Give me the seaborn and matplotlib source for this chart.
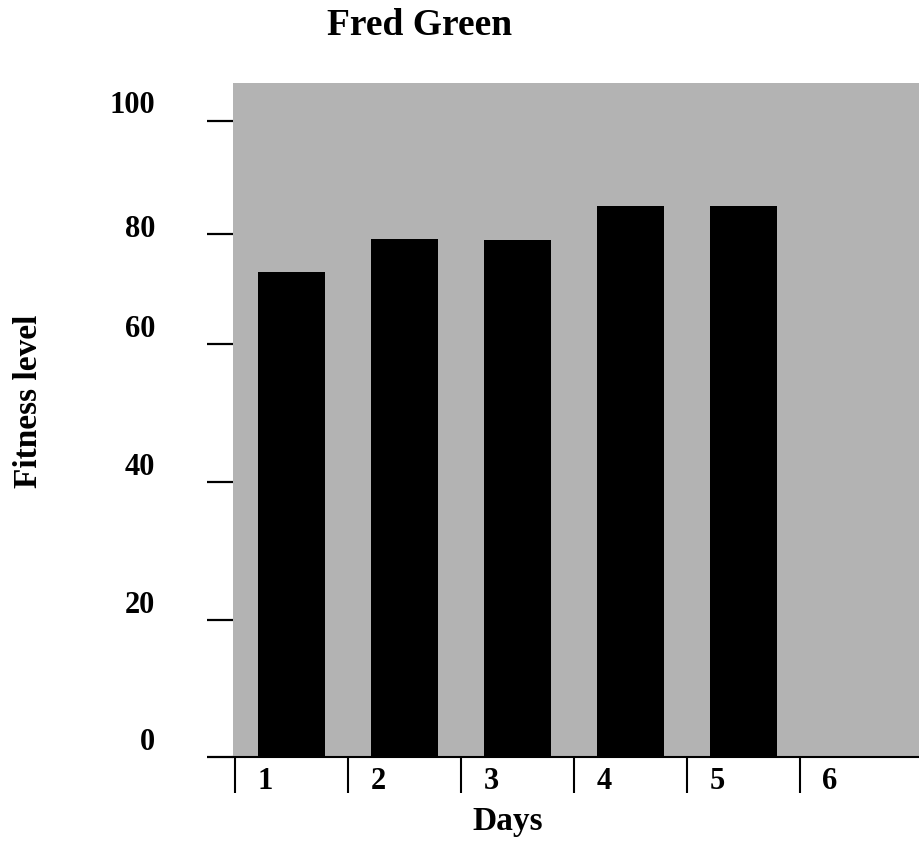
import numpy as np
import matplotlib
matplotlib.use("Agg")
import matplotlib.pyplot as plt
import matplotlib.transforms as mtransforms
import seaborn as sns

# Data (day 6 has no reading)
days = ["1", "2", "3", "4", "5", "6"]
fitness = [76.3, 81.4, 81.3, 86.6, 86.6]

# y axis: where the tick marks sit and where their labels sit (hand-drawn look)
ytick_labels = ["0", "20", "40", "60", "80", "100"]
ytick_marks = [0, 21.5, 43.2, 64.9, 82.2, 100]
ylabel_pos = [1.1, 22.6, 44.3, 66.0, 81.8, 101.3]

sns.set_style("white")
plt.rcParams["font.family"] = ["Liberation Serif", "DejaVu Serif"]
plt.rcParams["font.weight"] = "bold"
plt.rcParams["text.color"] = "black"
plt.rcParams["axes.labelcolor"] = "black"
plt.rcParams["xtick.color"] = "black"
plt.rcParams["ytick.color"] = "black"

fig = plt.figure(figsize=(9.2, 8.43), dpi=100)
ax = fig.add_axes([233 / 920, 1 - 757 / 843, 687 / 920, 674 / 843])
ax.set_facecolor("#b3b3b3")

sns.barplot(x=days[:5], y=fitness, order=days, color="black", saturation=1,
            width=0.59, errorbar=None, linewidth=0, ax=ax)

ax.set_xlim(-0.518, 5.562)
ax.set_ylim(0, 105.97)

for s in ["left", "top", "right"]:
    ax.spines[s].set_visible(False)
ax.spines["bottom"].set_color("black")
ax.spines["bottom"].set_linewidth(1.5)

# x axis: day separators as minor ticks, labels next to them
ax.set_xticks(range(len(days)), labels=days)
ax.set_xticks(np.arange(len(days)) - 0.5, minor=True)
ax.tick_params(axis="x", which="major", length=0, pad=7, labelsize=22,
               labelcolor="black")
ax.tick_params(axis="x", which="minor", bottom=True, length=26, width=1.5,
               color="black", direction="out")
shift = mtransforms.ScaledTranslation(-34 / 100, 0, fig.dpi_scale_trans)
for lbl in ax.get_xticklabels():
    lbl.set_ha("left")
    lbl.set_transform(lbl.get_transform() + shift)

# y axis
ax.set_yticks(ylabel_pos, labels=ytick_labels)
ax.set_yticks(ytick_marks, minor=True)
ax.tick_params(axis="y", which="major", length=0, pad=56, labelsize=22,
               labelcolor="black")
ax.tick_params(axis="y", which="minor", left=True, length=18.7, width=1.6,
               color="black", direction="out")
for lbl in ax.get_yticklabels():
    lbl.set_va("baseline")

ax.set_xlabel("Days", fontsize=24, fontweight="bold", color="black")
ax.xaxis.set_label_coords(0.3996, -0.0727)
ax.set_ylabel("Fitness level", fontsize=24, fontweight="bold", color="black")
ax.yaxis.set_label_coords(-0.2745, 0.528)

ax.set_title("Fred Green", fontsize=27, fontweight="bold", color="black",
             x=0.2715, y=1.0712, pad=0)

fig.savefig("out.png", dpi=100)
